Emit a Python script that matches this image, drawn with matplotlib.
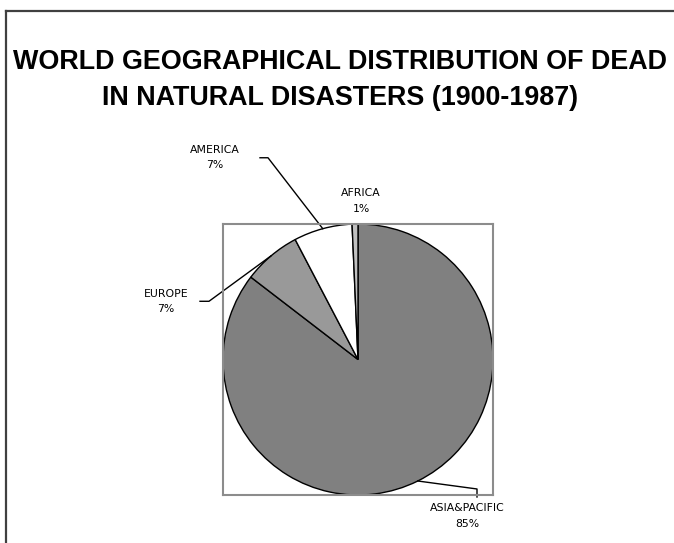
import numpy as np
import matplotlib
matplotlib.use("Agg")
import matplotlib.pyplot as plt
from matplotlib.patches import Rectangle

# ---- data ----
regions = ["ASIA&PACIFIC", "EUROPE", "AMERICA", "AFRICA"]
shares = [85.4, 6.9, 7.0, 0.7]
pct_labels = ["85%", "7%", "7%", "1%"]
title_text = "WORLD GEOGRAPHICAL DISTRIBUTION OF DEAD\nIN NATURAL DISASTERS (1900-1987)"

# ---- styling ----
colors = ["#808080", "#999999", "#ffffff", "#c0c0c0"]
W, H = 674, 543
fig = plt.figure(figsize=(W / 100, H / 100), dpi=100)
fig.patch.set_facecolor("white")

# outer chart border (top and left visible)
fig.add_artist(plt.Line2D([6 / W, 6 / W], [0, 1 - 11 / H], color="#404040", lw=1.6))
fig.add_artist(plt.Line2D([6 / W, 1.0], [1 - 11 / H, 1 - 11 / H], color="#404040", lw=1.6))

fig.text(340 / W, 1 - 80 / H, title_text, ha="center", va="center",
         fontsize=19.4, fontweight="bold", family="Liberation Sans",
         linespacing=1.5)

# plot area
ax = fig.add_axes([223 / W, 48 / H, 270 / W, 271 / H])
wedges, _ = ax.pie(shares, colors=colors, startangle=90, counterclock=False,
                   radius=1.0, wedgeprops=dict(edgecolor="black", linewidth=1.0))
ax.set_xlim(-1, 1)
ax.set_ylim(-1, 1)
ax.set_aspect("auto")
ax.set_xticks([])
ax.set_yticks([])
ax.set_frame_on(True)
for s in ax.spines.values():
    s.set_visible(True)
    s.set_color("#8c8c8c")
    s.set_linewidth(1.5)

# label layout (in axes-data units; pie centre (0,0), radius 1)
def px(xp, yp):
    return ((xp - 358) / 135.0, (359 - yp) / 135.0)

label_layout = {
    "AMERICA": dict(text=px(215, 158), elbow=[px(268, 158), px(260, 158)]),
    "EUROPE": dict(text=px(166, 301), elbow=[px(209, 301), px(200, 301)]),
    "AFRICA": dict(text=px(361, 201), elbow=None),
    "ASIA&PACIFIC": dict(text=px(467, 515), elbow=[px(477, 488), px(477, 496)]),
}

for w, name, pl in zip(wedges, regions, pct_labels):
    mid = np.deg2rad((w.theta1 + w.theta2) / 2.0)
    lay = label_layout[name]
    tx, ty = lay["text"]
    ax.text(tx, ty, f"{name}\n{pl}", ha="center", va="center", fontsize=7.8,
            family="DejaVu Sans", linespacing=1.65, clip_on=False)
    if lay["elbow"] is not None:
        ex, ey = np.cos(mid), np.sin(mid)
        xs = [ex] + [p[0] for p in lay["elbow"]]
        ys = [ey] + [p[1] for p in lay["elbow"]]
        ax.plot(xs, ys, color="black", lw=1.0, clip_on=False)

fig.savefig("out.png", dpi=100, facecolor="white")
